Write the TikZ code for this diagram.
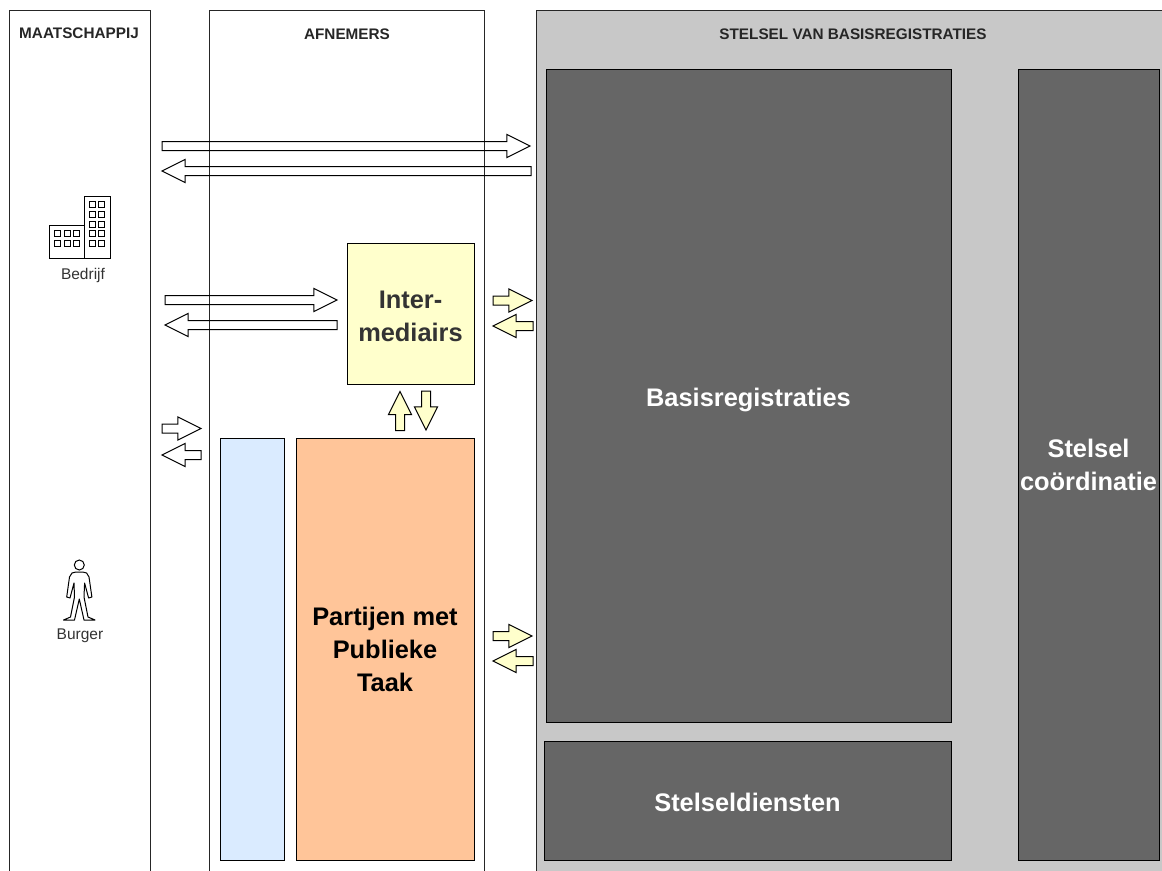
\documentclass[tikz,border=0pt]{standalone}
\usepackage{fontspec}
\setmainfont{Liberation Sans}
\usetikzlibrary{shapes,shapes.arrows}
\definecolor{panelgrey}{HTML}{C8C8C8}
\definecolor{blockgrey}{HTML}{666666}
\definecolor{paleyellow}{HTML}{FFFFCC}
\definecolor{paleblue}{HTML}{DAEBFF}
\definecolor{paleorange}{HTML}{FFC599}
\definecolor{inktext}{HTML}{333333}
\begin{document}
\begin{tikzpicture}[
  panel/.style={draw=black!85,line width=1bp,inner sep=0pt,outer sep=0pt},
  block/.style={draw=black,line width=1bp,inner sep=0pt,outer sep=0pt,align=center,font=\fontsize{25.4bp}{33bp}\selectfont\bfseries},
  dark/.style={block,fill=blockgrey,text=white},
  title/.style={font=\fontsize{15.3bp}{18bp}\selectfont\bfseries,text=black!85},
  actor/.style={font=\fontsize{15.5bp}{18bp}\selectfont,text=inktext},
  blockarrow/.style={single arrow,draw=black,line width=1bp,inner sep=4bp,outer sep=0pt,single arrow head extend=7bp,single arrow tip angle=53,minimum width=22bp,anchor=tip},
  toright/.style={blockarrow,shape border rotate=0},
  toleft/.style={blockarrow,shape border rotate=180},
  toup/.style={blockarrow,shape border rotate=90},
  todown/.style={blockarrow,shape border rotate=270},
  icon/.style={line width=1bp,draw=black}]
\useasboundingbox (0bp,0bp) rectangle (1162bp,-871bp);
% panels
\node (maatschappij) at (79.5bp,-445bp)[panel,minimum width=141bp,minimum height=870bp] {};
\node (afnemers) at (346.5bp,-445bp)[panel,minimum width=275bp,minimum height=870bp] {};
\node (stelsel) at (851bp,-445bp)[panel,fill=panelgrey,minimum width=630bp,minimum height=870bp] {};
\node (maatschappijtitle) at (79bp,-33bp)[title] {MAATSCHAPPIJ};
\node (afnemerstitle) at (347bp,-34bp)[title] {AFNEMERS};
\node (stelseltitle) at (853bp,-34bp)[title] {STELSEL VAN BASISREGISTRATIES};
% blocks
\node (basis) at (748.5bp,-395.5bp)[dark,minimum width=405bp,minimum height=653bp,text height=27bp] {Basisregistraties};
\node (diensten) at (747.5bp,-800.5bp)[dark,minimum width=407bp,minimum height=119bp,text height=23bp] {Stelseldiensten};
\node (coordinatie) at (1088.5bp,-464.5bp)[dark,minimum width=141bp,minimum height=791bp] {Stelsel\\coördinatie};
\node (inter) at (410.5bp,-313.5bp)[block,fill=paleyellow,text=inktext,minimum width=127bp,minimum height=141bp] {\rule{0pt}{24bp}Inter-\\mediairs};
\node (blauw) at (252bp,-649bp)[block,fill=paleblue,minimum width=64bp,minimum height=422bp] {};
\node (partijen) at (385bp,-649bp)[block,fill=paleorange,text=black,minimum width=178bp,minimum height=422bp] {Partijen met\\Publieke\\Taak};
% arrows
\node (top1) at (530bp,-146bp)[toright,minimum height=368bp] {};
\node (top2) at (162bp,-171bp)[toleft,minimum height=369bp] {};
\node (mid1) at (337bp,-300bp)[toright,minimum height=172bp] {};
\node (mid2) at (165bp,-325bp)[toleft,minimum height=172bp] {};
\node (low1) at (201bp,-428.5bp)[toright,minimum height=39bp] {};
\node (low2) at (162bp,-455bp)[toleft,minimum height=39bp] {};
\node (ya1) at (532bp,-300.5bp)[toright,fill=paleyellow,minimum height=39bp] {};
\node (ya2) at (493bp,-326bp)[toleft,fill=paleyellow,minimum height=40bp] {};
\node (yb1) at (532bp,-636bp)[toright,fill=paleyellow,minimum height=39bp] {};
\node (yb2) at (493bp,-661bp)[toleft,fill=paleyellow,minimum height=40bp] {};
\node (yc1) at (400bp,-391.5bp)[toup,fill=paleyellow,minimum height=39bp] {};
\node (yc2) at (426bp,-430bp)[todown,fill=paleyellow,minimum height=39bp] {};
% bedrijf
\draw[icon] (49bp,-225bp) rectangle (84bp,-258bp);
\draw[icon] (84bp,-196bp) rectangle (110bp,-258bp);
\foreach \wx in {54.3,64,73.7}
  \foreach \wy in {-230.7,-240.3}
    \draw[icon] (\wx bp,\wy bp) rectangle ++(6bp,-6bp);
\foreach \wx in {89,98.7}
  \foreach \wy in {-201.7,-211.3,-221,-230.7,-240.3}
    \draw[icon] (\wx bp,\wy bp) rectangle ++(6bp,-6bp);
\node (bedrijf) at (83bp,-275bp)[actor] {Bedrijf};
% burger
\draw[icon] (79.3bp,-565bp) circle (5bp);
\draw[icon,line join=round] (76bp,-572bp) -- (72bp,-573bp) -- (69.5bp,-577bp) -- (66.7bp,-597bp) -- (70bp,-598bp) -- (74bp,-583bp) -- (74.5bp,-597bp) -- (70.5bp,-617bp) -- (63.5bp,-620bp) -- (74.5bp,-620bp) -- (79.3bp,-599bp) -- (84bp,-620bp) -- (95bp,-620bp) -- (88bp,-617bp) -- (84bp,-597bp) -- (84.6bp,-583bp) -- (88.6bp,-598bp) -- (91.9bp,-597bp) -- (89bp,-577bp) -- (86.6bp,-573bp) -- (82.6bp,-572bp) -- cycle;
\node (burger) at (80bp,-636bp)[actor] {Burger};
\end{tikzpicture}
\end{document}
